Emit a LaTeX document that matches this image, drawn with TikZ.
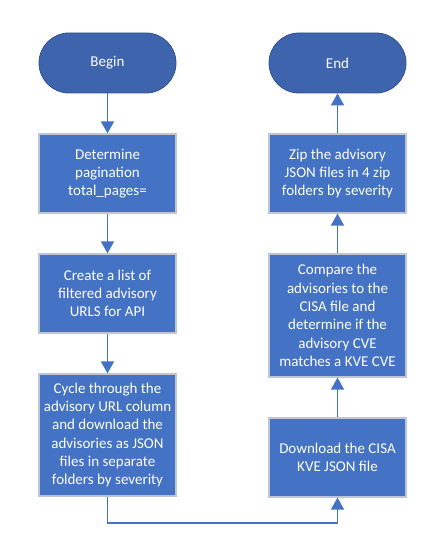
\documentclass[tikz,border=0pt]{standalone}
\usepackage{fontspec}
\setmainfont{Carlito}
\usetikzlibrary{arrows.meta,positioning}
\definecolor{stepblue}{HTML}{4472C4}
\definecolor{termblue}{HTML}{3D64AD}
\definecolor{termedge}{HTML}{2F528F}
\definecolor{boxedge}{HTML}{BCC6D6}

\begin{document}
\begin{tikzpicture}[
  x=1pt, y=1pt,
  every node/.style={align=center, font=\fontsize{15}{18.3}\selectfont, text=white},
  box/.style={draw=boxedge, line width=1.2pt, fill=stepblue, minimum width=137pt,
              inner sep=0pt},
  term/.style={draw=termedge, line width=0.8pt, fill=termblue, rounded corners=30pt,
               minimum width=137pt, minimum height=60pt},
  arr/.style={-{Triangle[width=13pt,length=12pt]}, draw=stepblue, line width=1.6pt},
]
  \useasboundingbox (0,0) rectangle (435,553);

  % Left column: from the start down
  \node[term] (begin) at (107.5,490) {Begin};
  \node[box, minimum height=79pt]  (pages) at (107.5,379.5)
    {Determine\\pagination\\total\_pages=};
  \node[box, minimum height=79pt]  (urls)  at (107.5,259.5)
    {Create a list of\\filtered advisory\\URLS for API};
  \node[box, minimum height=122pt] (cycle) at (107.5,118)
    {Cycle through the\\advisory URL column\\and download the\\advisories as JSON\\files in separate\\folders by severity};

  % Right column: going back up
  \node[box, minimum height=79pt]  (cisa)  at (337.5,95.5)
    {Download the CISA\\KVE JSON file};
  \node[box, minimum height=123pt] (match) at (337.5,237.5)
    {Compare the\\advisories to the\\CISA file and\\determine if the\\advisory CVE\\matches a KVE CVE};
  \node[box, minimum height=79pt]  (zip)   at (337.5,379.5)
    {Zip the advisory\\JSON files in 4 zip\\folders by severity};
  \node[term] (end) at (337.5,490) {End};

  % Arrows
  \draw[arr] (begin) -- (pages);
  \draw[arr] (pages) -- (urls);
  \draw[arr] (urls) -- (cycle);
  \coordinate (low) at (222.5,30);
  \draw[arr] (cycle.south) |- (low) -| (cisa.south);
  \draw[arr] (cisa) -- (match);
  \draw[arr] (match) -- (zip);
  \draw[arr] (zip) -- (end);
\end{tikzpicture}
\end{document}
